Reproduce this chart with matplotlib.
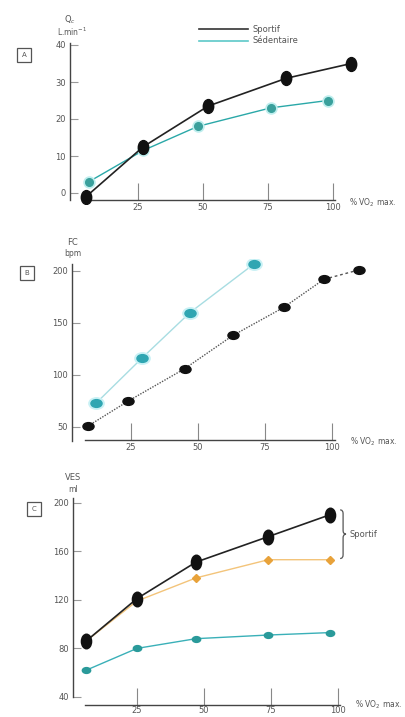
import numpy as np
import matplotlib
matplotlib.use('Agg')
import matplotlib.pyplot as plt
from matplotlib.markers import MarkerStyle
from matplotlib.transforms import Affine2D
from matplotlib.lines import Line2D
from matplotlib.path import Path
from matplotlib.patches import PathPatch

plt.rcParams['font.family'] = ['Liberation Sans Narrow', 'DejaVu Sans']

# panel A : debit cardiaque
a_sport_x = [5, 27, 52, 82, 107]
a_sport_y = [-1, 12.5, 23.5, 31, 35]
a_sed_x = [6, 27, 48, 76, 98]
a_sed_y = [3, 11.5, 18, 23, 25]
a_yticks = [0, 10, 20, 30, 40]

# panel B : frequence cardiaque
b_sport_x = [9, 24, 45, 63, 82, 97, 110]
b_sport_y = [51, 75, 106, 138, 165, 192, 201]
b_sed_x = [12, 29, 47, 71]
b_sed_y = [73, 116, 160, 207]
b_yticks = [50, 100, 150, 200]

# panel C : volume d'ejection systolique
c_x = [6, 25, 47, 74, 97]
c_sport_y = [86, 121, 151, 172, 190]
c_sport2_y = [86, 119, 138, 153, 153]
c_sed_y = [62, 80, 88, 91, 93]
c_yticks = [40, 80, 120, 160, 200]

xticks = [25, 50, 75, 100]

W, H = 405, 717
fig = plt.figure(figsize=(W / 100, H / 100), dpi=100)

grey = '#444444'
txt = '#555555'


def px_axes(x0, x1, y0, y1):
    # pixel box (left, right, top, bottom) -> figure fraction
    return fig.add_axes([x0 / W, 1 - y1 / H, (x1 - x0) / W, (y1 - y0) / H])


def ftext(x, y, s, **kw):
    kw.setdefault('fontsize', 6)
    kw.setdefault('color', txt)
    fig.text(x / W, 1 - y / H, s, **kw)


def style(ax, xlim, ylim, lx, by, ybounds, xbounds, yticks, xpad=2):
    ax.set_xlim(*xlim)
    ax.set_ylim(*ylim)
    for s in ['top', 'right']:
        ax.spines[s].set_visible(False)
    ax.spines['left'].set_position(('data', lx))
    ax.spines['bottom'].set_position(('data', by))
    ax.spines['left'].set_bounds(*ybounds)
    ax.spines['bottom'].set_bounds(*xbounds)
    for s in ['left', 'bottom']:
        ax.spines[s].set_color(grey)
        ax.spines[s].set_linewidth(1.0)
    ax.set_xticks(xticks)
    ax.set_yticks(yticks)
    ax.tick_params(axis='x', direction='in', length=12, width=0.8, color='#888888',
                   labelsize=6, labelcolor=txt, pad=xpad)
    ax.tick_params(axis='y', direction='in', length=6, width=0.8, color='#999999',
                   labelsize=6, labelcolor=txt, pad=3)
    ax.patch.set_alpha(0)


def ell(sx, sy):
    return MarkerStyle('o', transform=Affine2D().scale(sx, sy))


# ---- A ----
axA = px_axes(67.8, 359, 41.3, 204.1)
style(axA, (-2, 110), (-3, 41), -1.15, -1.9, (-1.9, 40.5), (4.6, 100.8), a_yticks)
axA.plot(a_sed_x, a_sed_y, color='#2aa8a8', lw=1.0, zorder=2)
axA.plot(a_sed_x, a_sed_y, ls='none', marker='o', ms=8, color='#bfeeee', zorder=2)
axA.plot(a_sed_x, a_sed_y, ls='none', marker='o', ms=5.5, color='#3aa09c', zorder=3)
axA.plot(a_sport_x, a_sport_y, color='#222222', lw=1.2, zorder=4)
axA.plot(a_sport_x, a_sport_y, ls='none', marker=ell(0.75, 1.0), ms=10, color='#111111', zorder=5)
leg = axA.legend(handles=[Line2D([], [], color='#333333', lw=1.2),
                          Line2D([], [], color='#5cc8c8', lw=1.2)],
                 labels=['Sportif', 'Sédentaire'], frameon=False, fontsize=6,
                 handlelength=5.8, handletextpad=0.6, labelspacing=0.25,
                 loc='upper left', bbox_to_anchor=(196 / W, 1 - 22 / H),
                 bbox_transform=fig.transFigure, borderaxespad=0)
for t in leg.get_texts():
    t.set_color(txt)
ftext(70, 20, 'Q$_c$', ha='center', va='center')
ftext(72, 32, 'L.min$^{-1}$', ha='center', va='center', fontsize=5.5)
ftext(24, 55, 'A', ha='center', va='center', fontsize=5,
      bbox=dict(boxstyle='square,pad=0.6', fc='white', ec='#555555', lw=0.9))
ftext(349, 203, '% VO$_2$ max.', ha='left', va='center', fontsize=5.5)

# ---- B ----
axB = px_axes(64, 372.2, 258.5, 442.6)
style(axB, (0, 115), (35, 212), 3, 37.5, (37, 207), (7.8, 101), b_yticks)
axB.plot(b_sed_x, b_sed_y, color='#a8dde2', lw=1.0, zorder=2)
axB.plot(b_sed_x, b_sed_y, ls='none', marker=ell(1.0, 0.75), ms=11, color='#c9f1f5', zorder=2)
axB.plot(b_sed_x, b_sed_y, ls='none', marker=ell(1.0, 0.7), ms=8, color='#2fa6b2', zorder=3)
axB.plot(b_sport_x[:-1], b_sport_y[:-1], color='#555555', lw=1.0, ls=(0, (1, 1)), zorder=4)
axB.plot(b_sport_x[-2:], b_sport_y[-2:], color='#555555', lw=1.0, ls=(0, (2, 2)), zorder=4)
axB.plot(b_sport_x, b_sport_y, ls='none', marker=ell(1.0, 0.7), ms=8, color='#111111', zorder=5)
ftext(73, 243, 'FC', ha='center', va='center')
ftext(73, 253, 'bpm', ha='center', va='center', fontsize=5.5)
ftext(27, 273, 'B', ha='center', va='center', fontsize=5,
      bbox=dict(boxstyle='square,pad=0.6', fc='white', ec='#555555', lw=0.9))
ftext(350, 442, '% VO$_2$ max.', ha='left', va='center', fontsize=5.5)

# ---- C ----
axC = px_axes(67.3, 378.2, 494.1, 706.7)
style(axC, (-1, 115), (32, 207), 1.1, 33.4, (40, 204), (5.6, 100.7), c_yticks, xpad=0.5)
axC.plot(c_x, c_sed_y, color='#3ab0b8', lw=1.0, zorder=2)
axC.plot(c_x, c_sed_y, ls='none', marker=ell(1.0, 0.7), ms=6, color='#2a9a9a', zorder=3)
axC.plot(c_x, c_sport2_y, color='#f3c47a', lw=1.0, zorder=3)
axC.plot(c_x, c_sport2_y, ls='none', marker='D', ms=4, color='#e8a23a', zorder=3)
axC.plot(c_x, c_sport_y, color='#222222', lw=1.2, zorder=4)
axC.plot(c_x, c_sport_y, ls='none', marker=ell(0.7, 1.0), ms=10.5, color='#111111', zorder=5)

# accolade regroupant les deux courbes du sportif
y_top = c_sport_y[-1] + 4
y_bot = c_sport2_y[-1] + 1
y_mid = (y_top + y_bot) / 2
x0, w, r = 100.8, 2.2, 3.0
verts = [(x0, y_top), (x0 + w / 2, y_top), (x0 + w / 2, y_top - r),
         (x0 + w / 2, y_mid + r),
         (x0 + w / 2, y_mid), (x0 + w, y_mid),
         (x0 + w / 2, y_mid), (x0 + w / 2, y_mid - r),
         (x0 + w / 2, y_bot + r),
         (x0 + w / 2, y_bot), (x0, y_bot)]
codes = [Path.MOVETO, Path.CURVE3, Path.CURVE3, Path.LINETO,
         Path.CURVE3, Path.CURVE3, Path.CURVE3, Path.CURVE3,
         Path.LINETO, Path.CURVE3, Path.CURVE3]
axC.add_patch(PathPatch(Path(verts, codes), fc='none', ec='#555555', lw=0.9,
                        clip_on=False))
axC.text(x0 + w + 1.2, y_mid, 'Sportif', fontsize=6, color=txt, va='center', ha='left')

ftext(73, 477, 'VES', ha='center', va='center')
ftext(73, 489, 'ml', ha='center', va='center', fontsize=5.5)
ftext(34, 509, 'C', ha='center', va='center', fontsize=5,
      bbox=dict(boxstyle='square,pad=0.6', fc='white', ec='#555555', lw=0.9))
ftext(355, 705, '% VO$_2$ max.', ha='left', va='center', fontsize=5.5)

fig.savefig('out.png', dpi=100)
